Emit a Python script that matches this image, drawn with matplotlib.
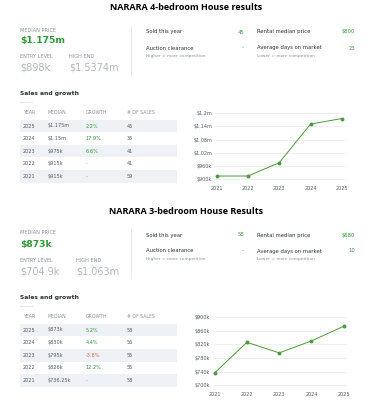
import matplotlib.pyplot as plt
from matplotlib.patches import Rectangle

# 4-bedroom data
years = ["2021", "2022", "2023", "2024", "2025"]
med4 = [915000, 915000, 975000, 1150000, 1175000]
table4_median = ["$1.175m", "$1.15m", "$975k", "$915k", "$915k"]
table4_growth = ["2.2%", "17.9%", "6.6%", "-", "-"]
table4_sales = ["45", "35", "41", "41", "59"]
ticks4 = [900000, 960000, 1020000, 1080000, 1140000, 1200000]
ticklab4 = ["$900k", "$960k", "$1.02m", "$1.08m", "$1.14m", "$1.2m"]
stats4 = {"median": "$1.175m", "entry": "$898k", "high": "$1.5374m",
          "sold": "45", "rent": "$800", "auction": "-", "days": "23"}

# 3-bedroom data
med3 = [736250, 826000, 795000, 830000, 873000]
table3_median = ["$873k", "$830k", "$795k", "$826k", "$736.25k"]
table3_growth = ["5.2%", "4.4%", "-3.8%", "12.2%", "-"]
table3_sales = ["58", "56", "55", "55", "58"]
ticks3 = [700000, 740000, 780000, 820000, 860000, 900000]
ticklab3 = ["$700k", "$740k", "$780k", "$820k", "$860k", "$900k"]
stats3 = {"median": "$873k", "entry": "$704.9k", "high": "$1.063m",
          "sold": "58", "rent": "$680", "auction": "-", "days": "10"}

GREEN = "#2f9a3a"
RED = "#e0604a"
GREY = "#b3b7bb"
DARK = "#2b2f33"
LIGHT = "#8a9096"
SHADE = "#eef2f6"

fig = plt.figure(figsize=(3.72, 4.0), dpi=100)
bg = fig.add_axes([0, 0, 1, 1])
bg.set_xlim(0, 372)
bg.set_ylim(400, 0)
bg.axis("off")


def section(y0, title, st, tmed, tgrow, tsales, hx):
    bg.text(186, y0 + 8, title, ha="center", va="center", fontsize=6.5,
            fontweight="bold", family="Open Sans", color="black")
    bg.text(20, y0 + 30, "MEDIAN PRICE", fontsize=3.6, color=LIGHT, va="center")
    bg.text(20, y0 + 41, st["median"], fontsize=6.6, color=GREEN,
            fontweight="bold", va="center")
    bg.text(20, y0 + 57, "ENTRY LEVEL", fontsize=3.6, color=LIGHT, va="center")
    bg.text(hx, y0 + 57, "HIGH END", fontsize=3.6, color=LIGHT, va="center")
    bg.text(20, y0 + 68, st["entry"], fontsize=7, color=GREY, va="center")
    bg.text(hx, y0 + 68, st["high"], fontsize=7, color=GREY, va="center")
    bg.plot([131, 131], [y0 + 26, y0 + 76], color="#e6e8ea", lw=0.6)

    bg.text(146, y0 + 32, "Sold this year", fontsize=3.8, color=DARK, va="center")
    bg.text(244, y0 + 32, st["sold"], fontsize=3.8, color=GREEN, va="center", ha="right")
    bg.text(257, y0 + 32, "Rental median price", fontsize=3.8, color=DARK, va="center")
    bg.text(355, y0 + 32, st["rent"], fontsize=3.8, color=GREEN, va="center", ha="right")
    bg.text(146, y0 + 48, "Auction clearance", fontsize=3.8, color=DARK, va="center")
    bg.text(244, y0 + 48, st["auction"], fontsize=3.8, color=GREEN, va="center", ha="right")
    bg.text(146, y0 + 56, "Higher = more competition", fontsize=3.2, color=LIGHT, va="center")
    bg.text(257, y0 + 48, "Average days on market", fontsize=3.8, color=DARK, va="center")
    bg.text(355, y0 + 48, st["days"], fontsize=3.8, color=GREEN, va="center", ha="right")
    bg.text(257, y0 + 56, "Lower = more competition", fontsize=3.2, color=LIGHT, va="center")

    sy = y0 + 94 if y0 == 0 else y0 + 95
    bg.text(20, sy, "Sales and growth", fontsize=4.3, color=DARK,
            fontweight="bold", va="center")
    bg.plot([20, 32], [sy + 8, sy + 8], color="#e6e8ea", lw=0.8)
    hy = sy + 19
    cols = [23, 48, 86, 127]
    for cx, h in zip(cols, ["YEAR", "MEDIAN", "GROWTH", "# OF SALES"]):
        bg.text(cx, hy, h, fontsize=3.3, color=LIGHT, va="center")
    for i in range(5):
        ry = hy + 13 + i * 12.6
        if i % 2 == 0:
            bg.add_patch(Rectangle((20, ry - 6.3), 157, 12.6, color=SHADE, lw=0))
        g = tgrow[i]
        if g.startswith("-") and len(g) > 1:
            gc = RED
        elif g == "-":
            gc = RED if i == 4 else LIGHT
        else:
            gc = GREEN
        bg.text(cols[0], ry, years[4 - i], fontsize=3.6, color="#555b61", va="center")
        bg.text(cols[1], ry, tmed[i], fontsize=3.6, color="#555b61", va="center")
        bg.text(cols[2], ry, g, fontsize=3.6, color=gc, va="center")
        bg.text(cols[3], ry, tsales[i], fontsize=3.6, color="#555b61", va="center")


def chart(rect, vals, ticks, labels):
    ax = fig.add_axes(rect)
    ax.plot(years, vals, color="#4c9a3c", lw=0.7, marker="o", ms=1.8)
    ax.set_ylim(ticks[0] - (ticks[1] - ticks[0]) * 0.05, ticks[-1])
    ax.set_yticks(ticks)
    ax.set_yticklabels(labels)
    ax.set_xlim(-0.05, 4.1)
    ax.grid(axis="y", color="#e8eaec", lw=0.5)
    for s in ax.spines.values():
        s.set_visible(False)
    ax.tick_params(length=0, labelsize=3.5, labelcolor="#555b61", pad=2)
    ax.tick_params(axis="x", pad=4)
    ax.set_facecolor("none")
    return ax


section(0, "NARARA 4-bedroom House results", stats4,
        table4_median, table4_growth, table4_sales, 69)
section(203, "NARARA 3-bedroom House Results", stats3,
        table3_median, table3_growth, table3_sales, 76)

chart([215 / 372, 1 - 180 / 400, 130 / 372, 67 / 400], med4, ticks4, ticklab4)
chart([213 / 372, 1 - 386 / 400, 134 / 372, 69 / 400], med3, ticks3, ticklab3)

fig.savefig("out.png", dpi=100, facecolor="white")
